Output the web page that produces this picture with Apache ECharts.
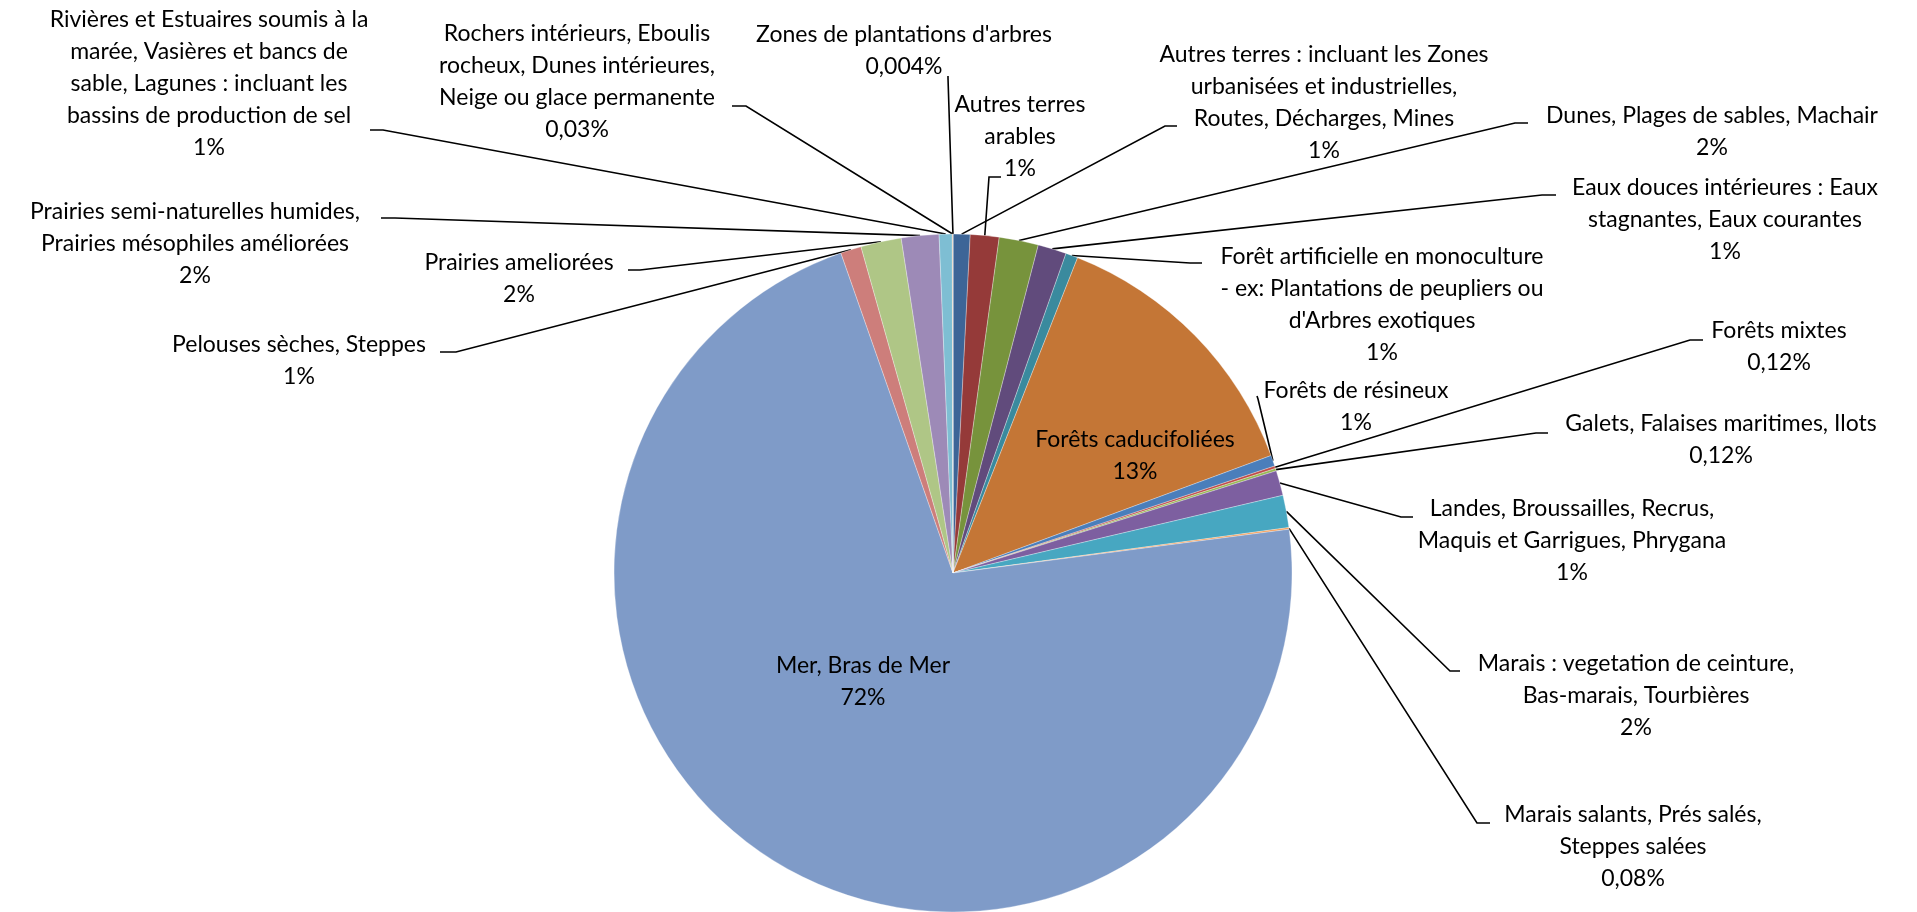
<!DOCTYPE html>
<html>
<head>
<meta charset="utf-8">
<script src="https://cdn.jsdelivr.net/npm/echarts@6/dist/echarts.min.js"></script>
<style>
html,body{margin:0;padding:0;background:#fff;}
#chart{width:1917px;height:912px;}
</style>
</head>
<body>
<div id="chart"></div>
<script>
// Categories (label text wrapped as in the reference)
const categories = [
  "Autres terres : incluant les Zones\nurbanisées et industrielles,\nRoutes, Décharges, Mines",
  "Autres terres\narables",
  "Dunes, Plages de sables, Machair",
  "Eaux douces intérieures : Eaux\nstagnantes, Eaux courantes",
  "Forêt artificielle en monoculture\n- ex: Plantations de peupliers ou\nd'Arbres exotiques",
  "Forêts caducifoliées",
  "Forêts de résineux",
  "Forêts mixtes",
  "Galets, Falaises maritimes, Ilots",
  "Landes, Broussailles, Recrus,\nMaquis et Garrigues, Phrygana",
  "Marais : vegetation de ceinture,\nBas-marais, Tourbières",
  "Marais salants, Prés salés,\nSteppes salées",
  "Mer, Bras de Mer",
  "Pelouses sèches, Steppes",
  "Prairies ameliorées",
  "Prairies semi-naturelles humides,\nPrairies mésophiles améliorées",
  "Rivières et Estuaires soumis à la\nmarée, Vasières et bancs de\nsable, Lagunes : incluant les\nbassins de production de sel",
  "Rochers intérieurs, Eboulis\nrocheux, Dunes intérieures,\nNeige ou glace permanente",
  "Zones de plantations d'arbres"
];
// Share of area (%)
const shares = [0.81, 1.37, 1.87, 1.36, 0.58, 13.38, 0.52, 0.12, 0.12, 1.19, 1.54, 0.08, 71.7, 0.99, 1.93, 1.79, 0.62, 0.03, 0.004];

// Styles / layout (kept apart from data)
const colors = ["#3D6597","#953A39","#77933C","#614B7C","#3A8A9E","#C47636","#4A7EBB","#BE4B48","#98B954","#7D5FA0","#47A7C1","#F49A52","#7F9BC8","#CD7E7B","#AFC686","#9D8AB7","#7EBED3","#F9AB6B","#3A5F8C"];
const insideLabels = [5, 12];
// label block centre and leader-line elbow / end near label
const labelPos = [
  [1324,103],[1020,137],[1712,132],[1725,220],[1382,305],[1135,456],[1356,407],[1779,347],[1721,440],
  [1572,541],[1636,696],[1633,847],[863,682],[299,361],[519,279],[195,244],[209,84],[577,82],[904,51]
];
const lineEnds = [
  [[1165,126],[1177,126]], [[989,177],[1001,177]], [[1515,123],[1528,123]], [[1542,195],[1556,195]],
  [[1190,263],[1202,263]], null, [[1258,399],[1257,396]], [[1690,340],[1703,340]], [[1536,433],[1548,433]],
  [[1401,517],[1413,517]], [[1450,671],[1460,671]], [[1477,823],[1490,823]], null,
  [[456,352],[440,352]], [[640,270],[628,270]], [[395,218],[381,218]], [[383,130],[370,130]],
  [[746,106],[732,106]], [[948,78],[948,76]]
];

function fmtPct(v){
  if (v >= 0.5) return Math.round(v) + '%';
  return String(v).replace('.', ',') + '%';
}

const data = categories.map((name, i) => {
  const item = { name: name, value: shares[i], itemStyle: { color: colors[i] } };
  if (insideLabels.indexOf(i) >= 0) {
    item.label = { position: 'inside' };
    item.labelLine = { show: false };
  }
  return item;
});

const chart = echarts.init(document.getElementById('chart'), null, {renderer: 'canvas'});
chart.setOption({
  backgroundColor: '#ffffff',
  animation: false,
  series: [{
    type: 'pie',
    center: [953, 573],
    radius: 339,
    startAngle: 90,
    clockwise: true,
    avoidLabelOverlap: false,
    minAngle: 0,
    itemStyle: { borderColor: 'rgba(255,255,255,0.5)', borderWidth: 0.6 },
    label: {
      show: true,
      position: 'outside',
      color: '#000',
      fontFamily: 'Lato',
      fontSize: 23,
      lineHeight: 32,
      align: 'center',
      formatter: p => p.name + '\n' + fmtPct(p.value)
    },
    labelLine: { show: true, lineStyle: { color: '#000', width: 1.6 } },
    labelLayout: function (params) {
      const i = params.dataIndex;
      const pos = labelPos[i];
      const res = { x: pos[0], y: pos[1], align: 'center', verticalAlign: 'middle' };
      if (lineEnds[i] && params.labelLinePoints) {
        const s = params.labelLinePoints[0];
        res.labelLinePoints = [[s[0], s[1]], lineEnds[i][0], lineEnds[i][1]];
      }
      return res;
    },
    data: data
  }]
});
</script>
</body>
</html>
